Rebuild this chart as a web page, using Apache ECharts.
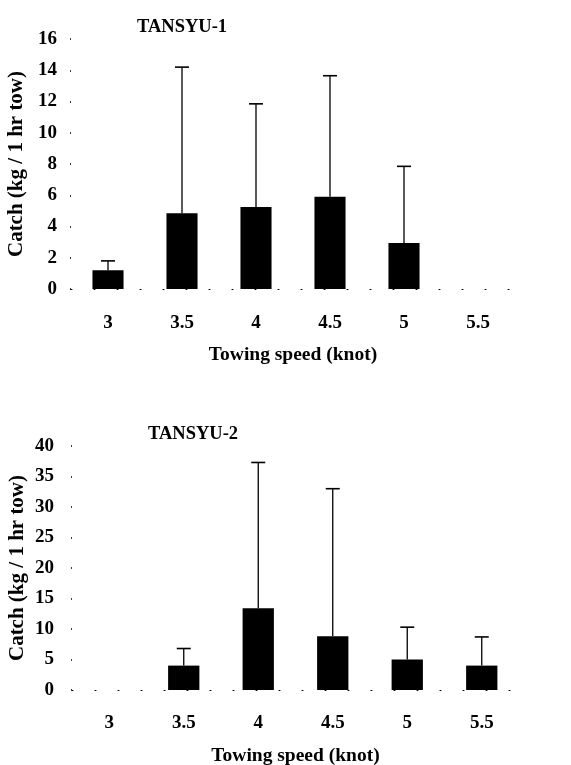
<!DOCTYPE html>
<html>
<head>
<meta charset="utf-8">
<script src="https://cdn.jsdelivr.net/npm/echarts@6/dist/echarts.min.js"></script>
<style>
  html, body { margin: 0; padding: 0; background: #fff; }
  #chart { width: 571px; height: 765px; }
</style>
</head>
<body>
<div id="chart"></div>
<script>
// Towing speed categories (knot)
var speeds = ['3', '3.5', '4', '4.5', '5', '5.5'];

// TANSYU-1: mean catch and upper end of the error bar (kg / 1 hr tow)
var t1Mean = [1.2, 4.85, 5.25, 5.9, 2.95, null];
var t1Upper = [1.8, 14.2, 11.85, 13.65, 7.85, null];

// TANSYU-2: mean catch and upper end of the error bar (kg / 1 hr tow)
var t2Mean = [null, 4.0, 13.4, 8.8, 5.0, 4.0];
var t2Upper = [null, 6.8, 37.3, 33.0, 10.3, 8.7];

var FONT = 'Liberation Serif';

function pairs(mean, upper) {
  var out = [];
  for (var i = 0; i < mean.length; i++) {
    if (mean[i] != null && upper[i] != null) out.push([i, mean[i], upper[i]]);
  }
  return out;
}

// Upper-only error bar with a short cap
function renderErr(params, api) {
  var i = api.value(0);
  var p0 = api.coord([i, api.value(1)]);
  var p1 = api.coord([i, api.value(2)]);
  var half = 7;
  return {
    type: 'group',
    children: [
      { type: 'line', shape: { x1: p0[0], y1: p0[1], x2: p1[0], y2: p1[1] },
        style: { stroke: '#000', lineWidth: 1.3 } },
      { type: 'line', shape: { x1: p1[0] - half, y1: p1[1], x2: p1[0] + half, y2: p1[1] },
        style: { stroke: '#000', lineWidth: 1.6 } }
    ]
  };
}

var labelStyle = { fontFamily: FONT, fontWeight: 'bold', fontSize: 19, color: '#000' };
var xNameStyle = { fontFamily: FONT, fontWeight: 'bold', fontSize: 19.5, color: '#000' };
var yNameStyle = { fontFamily: FONT, fontWeight: 'bold', fontSize: 21, color: '#000' };

function xAxis(gridIndex, margin) {
  return {
    type: 'category', gridIndex: gridIndex, data: speeds,
    axisLine: { show: true, lineStyle: { color: '#000', width: 1, type: [1, 22] } },
    axisTick: { show: false },
    axisLabel: Object.assign({ margin: margin }, labelStyle),
    name: 'Towing speed (knot)', nameLocation: 'middle', nameGap: 56,
    nameTextStyle: xNameStyle
  };
}

function yAxis(gridIndex, max, interval, margin) {
  return {
    type: 'value', gridIndex: gridIndex, min: 0, max: max, interval: interval,
    axisLine: { show: false },
    axisTick: { show: true, length: 1, lineStyle: { color: '#000', width: 1.5 } },
    splitLine: { show: false },
    axisLabel: Object.assign({ margin: margin }, labelStyle),
    name: 'Catch (kg / 1 hr tow)', nameLocation: 'middle', nameGap: 44, nameRotate: 90,
    nameMoveOverlap: false,
    nameTextStyle: yNameStyle
  };
}

var chart = echarts.init(document.getElementById('chart'), null, { renderer: 'canvas' });
chart.setOption({
  animation: false,
  backgroundColor: '#fff',
  title: [
    { text: 'TANSYU-1', left: 132, top: 13,
      textStyle: { fontFamily: FONT, fontWeight: 'bold', fontSize: 18.5, color: '#000' } },
    { text: 'TANSYU-2', left: 143, top: 420,
      textStyle: { fontFamily: FONT, fontWeight: 'bold', fontSize: 18.5, color: '#000' } }
  ],
  grid: [
    { left: 71, right: 56, top: 39, height: 250, containLabel: false, outerBoundsMode: 'none' },
    { left: 72, right: 52, top: 446, height: 244, containLabel: false, outerBoundsMode: 'none' }
  ],
  xAxis: [xAxis(0, 25), xAxis(1, 24)],
  yAxis: [yAxis(0, 16, 2, 14), yAxis(1, 40, 5, 18)],
  series: [
    { type: 'bar', xAxisIndex: 0, yAxisIndex: 0, data: t1Mean, barWidth: '42%',
      itemStyle: { color: '#000' } },
    { type: 'custom', xAxisIndex: 0, yAxisIndex: 0, data: pairs(t1Mean, t1Upper),
      renderItem: renderErr, z: 3 },
    { type: 'bar', xAxisIndex: 1, yAxisIndex: 1, data: t2Mean, barWidth: '42%',
      itemStyle: { color: '#000' } },
    { type: 'custom', xAxisIndex: 1, yAxisIndex: 1, data: pairs(t2Mean, t2Upper),
      renderItem: renderErr, z: 3 }
  ]
});
</script>
</body>
</html>
